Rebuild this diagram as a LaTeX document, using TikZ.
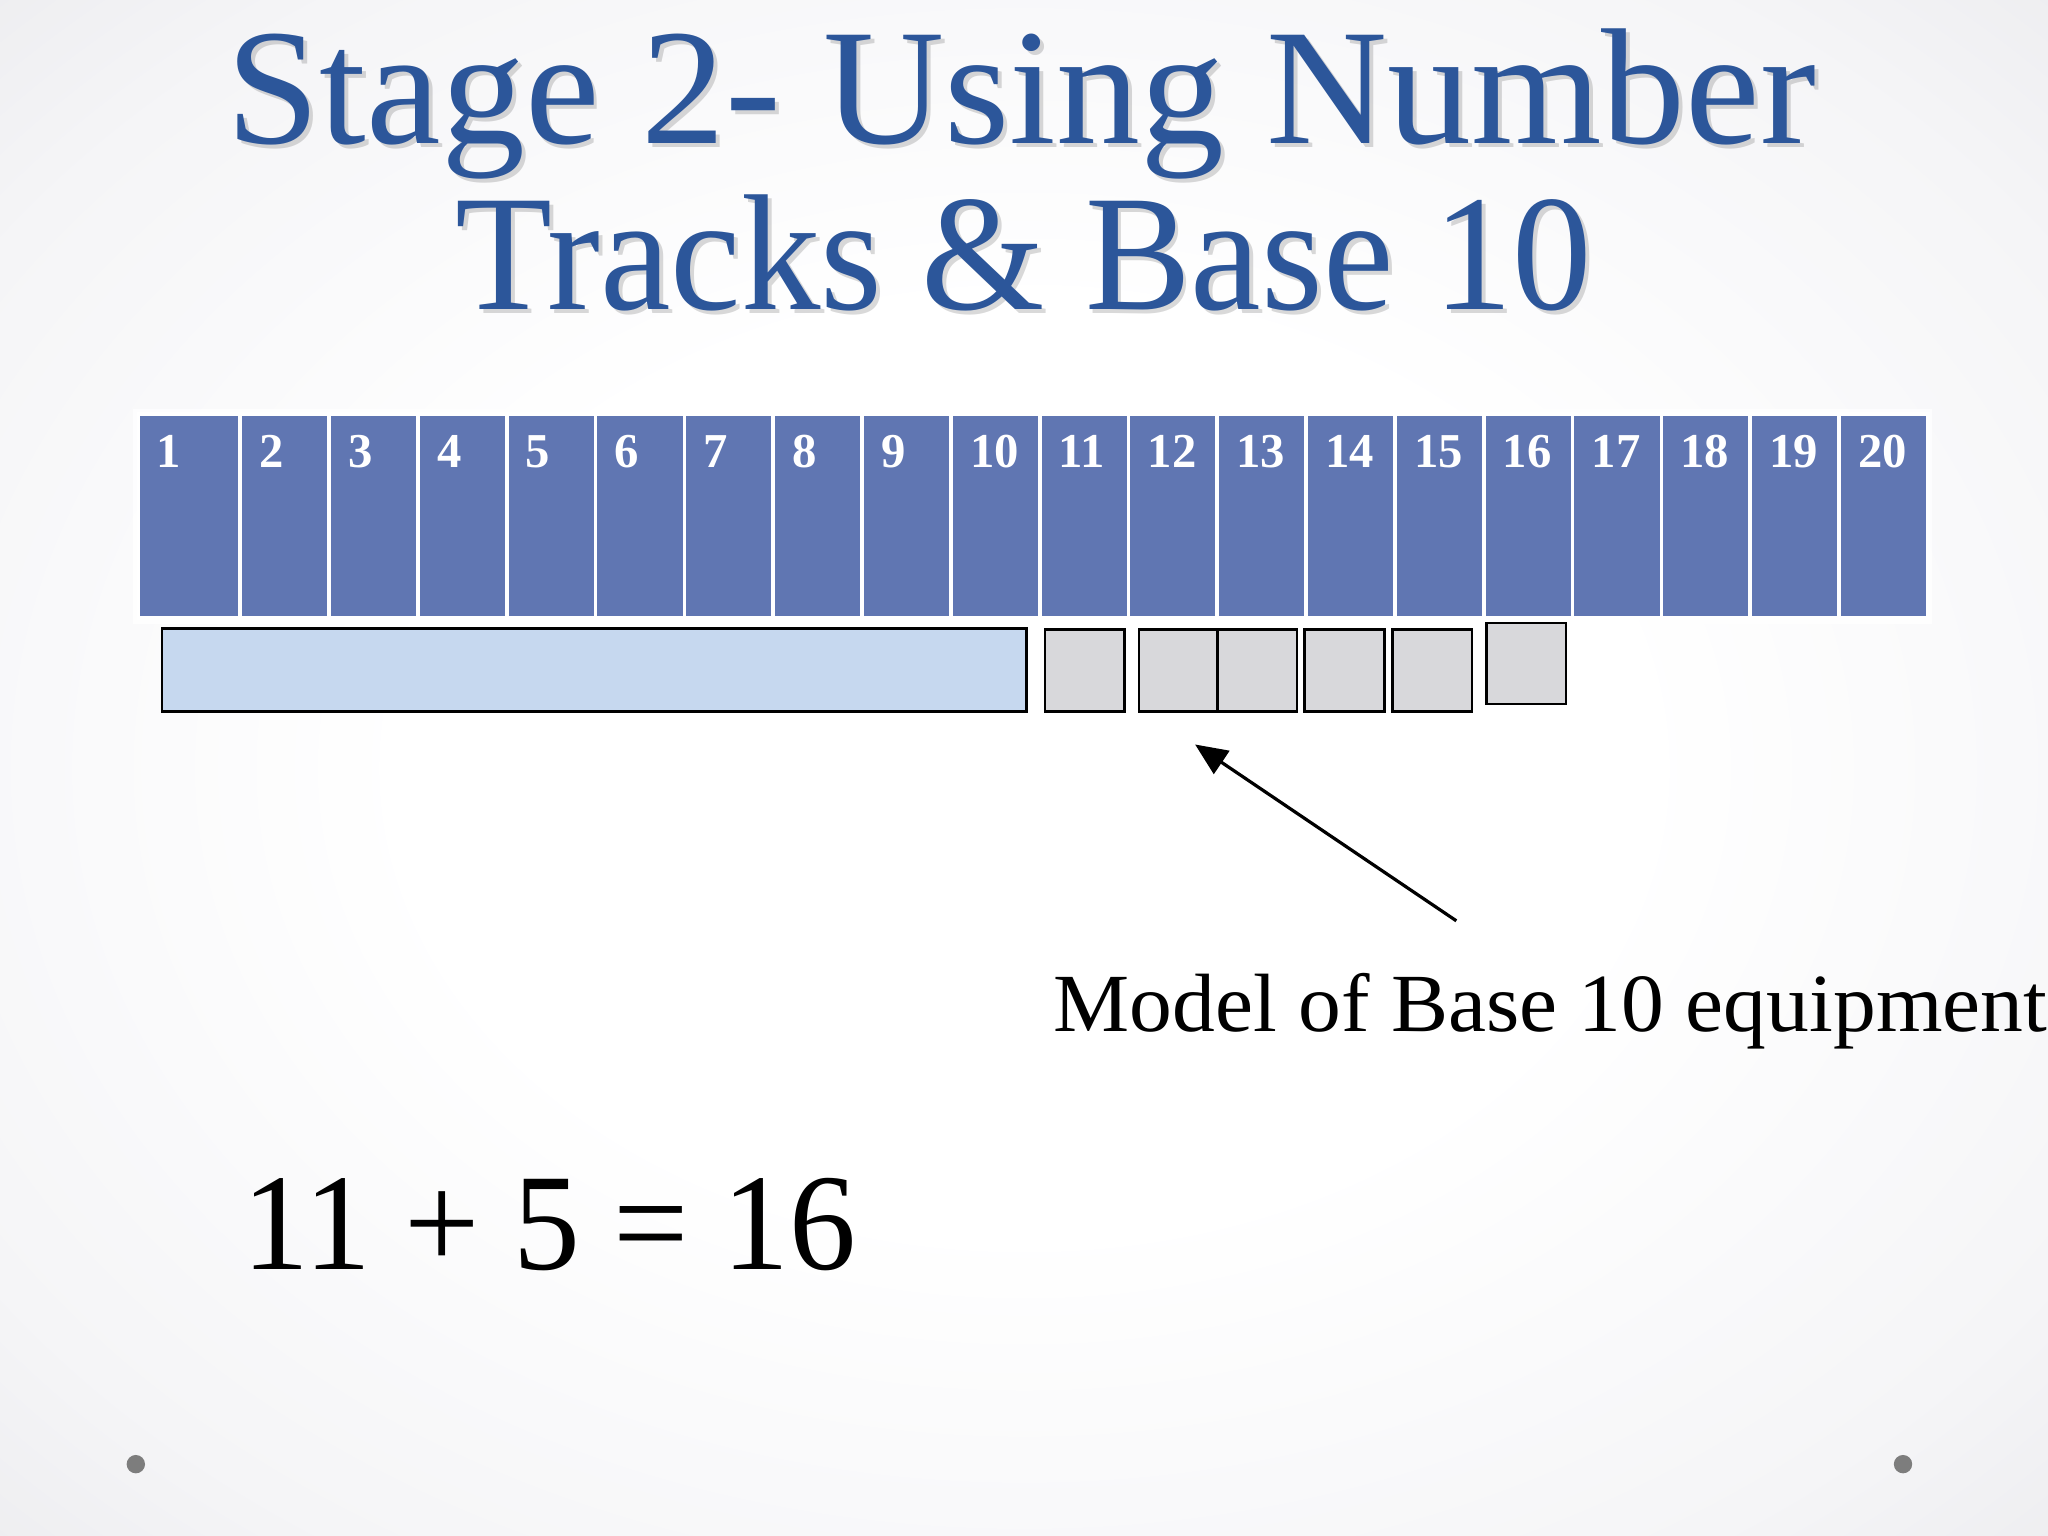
\documentclass[tikz,border=0pt]{standalone}
\usepackage{fontspec}
\setmainfont{Liberation Serif}
\usetikzlibrary{arrows.meta}
\definecolor{titleblue}{RGB}{44,86,154}
\definecolor{cellblue}{RGB}{96,118,178}
\definecolor{barblue}{RGB}{198,216,239}
\definecolor{sqgray}{RGB}{216,216,219}
\definecolor{bgmid}{RGB}{245,245,247}
\definecolor{bgside}{RGB}{230,230,233}
\definecolor{bgedge}{RGB}{214,214,218}
\definecolor{dotgray}{RGB}{125,125,125}
\pgfdeclareradialshading{slidebg}{\pgfpoint{0bp}{0bp}}{%
  color(0bp)=(white); color(15bp)=(white); color(30bp)=(bgmid); color(42bp)=(bgside); color(50bp)=(bgedge)}
\tikzset{
  titletext/.style={anchor=base,inner sep=0pt,text=titleblue,font=\fontsize{36}{42}\selectfont},
  titleshadow/.style={anchor=base,inner sep=0pt,text=black,opacity=0.15,font=\fontsize{36}{42}\selectfont},
  cellbox/.style={fill=cellblue,draw=white,line width=0.8pt},
  celllab/.style={anchor=base west,inner sep=0pt,text=white,font=\fontsize{10.6}{12}\selectfont\bfseries},
  tenbar/.style={fill=barblue,draw=black,line width=0.6pt},
  unitsq/.style={fill=sqgray,draw=black,line width=0.6pt},
  bodytext/.style={anchor=base west,inner sep=0pt,text=black,xscale=1.035,font=\fontsize{18}{21}\selectfont},
  eqtext/.style={anchor=base west,inner sep=0pt,text=black,xscale=0.97,font=\fontsize{30}{34}\selectfont},
  pointer/.style={draw=black,line width=0.7pt,-{Triangle[length=7pt,width=6pt]}},
  bulletdot/.style={circle,fill=dotgray,inner sep=0pt,minimum size=4pt}
}
\begin{document}
\begin{tikzpicture}[x=0.01cm,y=-0.01cm]
\useasboundingbox (0,0) rectangle (1568,1176);
\shade[shading=slidebg] (0,0) rectangle (1568,1176);
% title
\node[titleshadow,xscale=1.015] (t1s) at (785,113) {Stage 2- Using Number};
\node[titletext,xscale=1.015] (t1) at (782,110) {Stage 2- Using Number};
\node[titleshadow,xscale=0.96] (t2s) at (787,240) {Tracks \& Base 10};
\node[titletext,xscale=0.96] (t2) at (784,237) {Tracks \& Base 10};
% number track
\fill[white,opacity=0.8] (102,313) rectangle (1479,478);
\draw[cellbox] (106,317) rectangle (184,473);
\node[celllab] (l1) at (119,358) {1};
\foreach \i in {2,...,20}{
  \pgfmathsetmacro{\xl}{184+(\i-2)*68}
  \pgfmathsetmacro{\xr}{184+(\i-1)*68}
  \draw[cellbox] (\xl,317) rectangle (\xr,473);
  \node[celllab] (l\i) at (\xl+14,358) {\i};
}
% base ten model
\draw[tenbar] (124,481) rectangle (786,545);
\draw[unitsq] (800,482) rectangle (861,545);
\draw[unitsq] (872,482) rectangle (932,545);
\draw[unitsq] (932,482) rectangle (993,545);
\draw[unitsq] (999,482) rectangle (1060,545);
\draw[unitsq] (1066,482) rectangle (1127,545);
\draw[unitsq] (1138,477) rectangle (1199,539);
% pointer
\coordinate (arrowtail) at (1115,705);
\coordinate (arrowtip) at (915,570);
\draw[pointer] (arrowtail) -- (arrowtip);
\node[bodytext] (model) at (806,790) {Model of Base 10 equipment};
% equation
\node[eqtext] (eq) at (185,972) {11 + 5 = 16};
% slide dots
\node[bulletdot] (d1) at (104,1121) {};
\node[bulletdot] (d2) at (1457,1121) {};
\end{tikzpicture}
\end{document}
